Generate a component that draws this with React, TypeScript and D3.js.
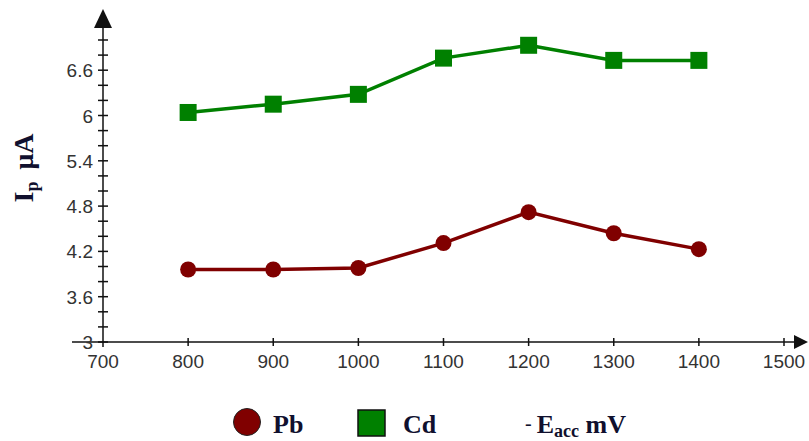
import React, { useRef, useEffect } from "react";
import * as d3 from "d3";

// -E acc (mV)
const potentials = [800, 900, 1000, 1100, 1200, 1300, 1400];
// peak currents (uA)
const pbCurrent = [3.96, 3.96, 3.98, 4.31, 4.72, 4.44, 4.23];
const cdCurrent = [6.04, 6.15, 6.28, 6.76, 6.93, 6.73, 6.73];
const xTicks = [700, 800, 900, 1000, 1100, 1200, 1300, 1400, 1500];
const yLabelTicks = [3, 3.6, 4.2, 4.8, 5.4, 6, 6.6];
const yMinorTicks = d3.range(0, 21).map((i) => 3 + i * 0.2);

function Chart() {
    const ref = useRef<SVGSVGElement>(null);

    useEffect(() => {
        draw();
    }, []);

    const draw = () => {
        const svg = d3.select(ref.current);
        svg.selectAll("*").remove();

        const x = d3.scaleLinear().domain([700, 1500]).range([103, 784]);
        const y = d3.scaleLinear().domain([3, 7]).range([342, 40]);
        const axisColor = "#111";
        const textColor = "#10102e";

        // axes lines
        svg.append("line")
            .attr("x1", 72).attr("x2", 798)
            .attr("y1", y(3)).attr("y2", y(3))
            .attr("stroke", axisColor).attr("stroke-width", 1.5);
        svg.append("line")
            .attr("x1", x(700)).attr("x2", x(700))
            .attr("y1", y(3) + 5).attr("y2", 20)
            .attr("stroke", axisColor).attr("stroke-width", 1.5);

        // arrow heads
        svg.append("path")
            .attr("d", `M${x(700)},9 L${x(700) - 9},28 L${x(700) + 9},28 Z`)
            .attr("fill", axisColor);
        svg.append("path")
            .attr("d", `M808,${y(3)} L794,${y(3) - 7} L794,${y(3) + 7} Z`)
            .attr("fill", axisColor);

        // y ticks
        svg.append("g")
            .selectAll("line")
            .data(yMinorTicks)
            .enter()
            .append("line")
            .attr("x1", x(700) - 5).attr("x2", x(700) + 5)
            .attr("y1", (d) => y(d)).attr("y2", (d) => y(d))
            .attr("stroke", axisColor).attr("stroke-width", 1.5);

        svg.append("g")
            .selectAll("text")
            .data(yLabelTicks)
            .enter()
            .append("text")
            .text((d) => d3.format("~g")(d))
            .attr("x", x(700) - 10)
            .attr("y", (d) => y(d) + 7)
            .attr("text-anchor", "end")
            .attr("font-family", "Liberation Sans, Arial, sans-serif")
            .attr("font-size", "19px")
            .attr("fill", "#333");

        // x ticks
        svg.append("g")
            .selectAll("line")
            .data(xTicks.slice(1))
            .enter()
            .append("line")
            .attr("x1", (d) => x(d)).attr("x2", (d) => x(d))
            .attr("y1", y(3) - 4).attr("y2", y(3) + 4)
            .attr("stroke", axisColor).attr("stroke-width", 1.5);

        svg.append("g")
            .selectAll("text")
            .data(xTicks)
            .enter()
            .append("text")
            .text((d) => d)
            .attr("x", (d) => x(d))
            .attr("y", y(3) + 26)
            .attr("text-anchor", "middle")
            .attr("font-family", "Liberation Sans, Arial, sans-serif")
            .attr("font-size", "19px")
            .attr("fill", "#333");

        // series
        const series = [
            { values: pbCurrent, color: "#800000", shape: "circle" },
            { values: cdCurrent, color: "#008000", shape: "square" },
        ];

        series.forEach((s) => {
            const line = d3
                .line<number>()
                .x((d, i) => x(potentials[i]))
                .y((d) => y(d));

            svg.append("path")
                .datum(s.values)
                .attr("d", line)
                .attr("fill", "none")
                .attr("stroke", s.color)
                .attr("stroke-width", 3.5);

            if (s.shape === "circle") {
                svg.append("g")
                    .selectAll("circle")
                    .data(s.values)
                    .enter()
                    .append("circle")
                    .attr("cx", (d, i) => x(potentials[i]))
                    .attr("cy", (d) => y(d))
                    .attr("r", 8)
                    .attr("fill", s.color);
            } else {
                svg.append("g")
                    .selectAll("rect")
                    .data(s.values)
                    .enter()
                    .append("rect")
                    .attr("x", (d, i) => x(potentials[i]) - 8.5)
                    .attr("y", (d) => y(d) - 8.5)
                    .attr("width", 17)
                    .attr("height", 17)
                    .attr("fill", s.color);
            }
        });

        // y title
        const yTitle = svg.append("text")
            .attr("transform", "translate(33,168) rotate(-90)")
            .attr("text-anchor", "middle")
            .attr("font-family", "Liberation Serif, Times New Roman, serif")
            .attr("font-weight", "bold")
            .attr("font-size", "28px")
            .attr("fill", textColor);
        yTitle.append("tspan").text("I");
        yTitle.append("tspan").text("p").attr("font-size", "18px").attr("dy", 5);
        yTitle.append("tspan").text("μA").attr("dy", -5).attr("dx", 12);

        // legend
        const legendFont = "Liberation Serif, Times New Roman, serif";
        svg.append("circle")
            .attr("cx", 247).attr("cy", 422).attr("r", 13.5)
            .attr("fill", "#800000").attr("stroke", "#222").attr("stroke-width", 1);
        svg.append("text")
            .text("Pb")
            .attr("x", 273).attr("y", 433)
            .attr("font-family", legendFont).attr("font-weight", "bold")
            .attr("font-size", "26px").attr("fill", textColor);

        svg.append("rect")
            .attr("x", 358).attr("y", 410).attr("width", 27).attr("height", 26)
            .attr("fill", "#008000").attr("stroke", "#111").attr("stroke-width", 1.5);
        svg.append("text")
            .text("Cd")
            .attr("x", 403).attr("y", 433)
            .attr("font-family", legendFont).attr("font-weight", "bold")
            .attr("font-size", "26px").attr("fill", textColor);

        const xTitle = svg.append("text")
            .attr("x", 525).attr("y", 433)
            .attr("font-family", legendFont).attr("font-weight", "bold")
            .attr("font-size", "26px").attr("fill", textColor);
        xTitle.append("tspan").text("- ").attr("font-weight", "normal").attr("font-size", "20px").attr("dy", -3);
        xTitle.append("tspan").text("E").attr("dy", 3);
        xTitle.append("tspan").text("acc").attr("font-size", "18px").attr("dy", 4);
        xTitle.append("tspan").text(" mV").attr("dy", -4);
    };

    return <svg ref={ref} width={809} height={441}></svg>;
}

export default function App() {
    return (
        <div style={{ position: "absolute", left: 0, top: 0, width: 809, height: 441, background: "#fff" }}>
            <Chart />
        </div>
    );
}
